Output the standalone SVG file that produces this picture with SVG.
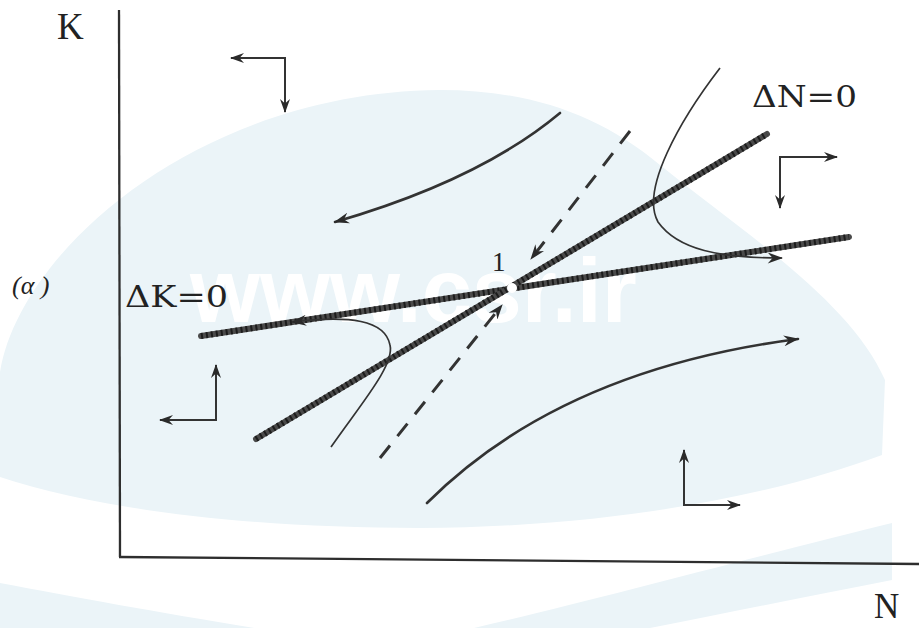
<svg xmlns="http://www.w3.org/2000/svg" width="919" height="628" viewBox="0 0 919 628">
<style>
.wm{fill:#ebf4f8}
.wmt{fill:#ffffff;font-family:"Liberation Sans",Arial,sans-serif;font-weight:bold;font-size:90px}
.axis{stroke:#2e2e2e;stroke-width:2.3;fill:none}
.thick{stroke:#4a4a4a;stroke-width:6;fill:none;stroke-linecap:round}
.hatch{stroke:#1c1c1c;stroke-width:6;fill:none;stroke-dasharray:2 3}
.traj{stroke:#333;stroke-width:2.6;fill:none;stroke-linecap:round}
.thin{stroke:#333;stroke-width:1.7;fill:none}
.dash{stroke:#333;stroke-width:3;fill:none;stroke-dasharray:16 12}
.dir{stroke:#333;stroke-width:2;fill:none}
.lbl{font-family:"Liberation Serif","Times New Roman",serif;fill:#222}
.eq{font-family:"DejaVu Serif","Liberation Serif",serif;fill:#222}
</style>
<defs>
<marker id="ah" viewBox="0 0 14 10" refX="13" refY="5" markerWidth="16" markerHeight="11" markerUnits="userSpaceOnUse" orient="auto">
<path d="M0,0 L14,5 L0,10 L4.5,5 Z" fill="#2a2a2a"/>
</marker>
<marker id="ahs" viewBox="0 0 14 10" refX="13" refY="5" markerWidth="14" markerHeight="10" markerUnits="userSpaceOnUse" orient="auto">
<path d="M0,0 L14,5 L0,10 L4.5,5 Z" fill="#2a2a2a"/>
</marker>
</defs>

<g id="watermark">
<path class="wm" d="M0,372 C20,250 200,92 440,90 C530,90 600,115 660,165 C740,230 850,300 885,380 L882,455 C760,500 600,527 420,528 C250,528 100,510 0,477 Z"/>
<path class="wm" d="M0,583 C90,600 200,620 330,640 L0,640 Z M420,640 C540,615 760,555 892,523 L892,580 C800,598 700,618 590,640 Z"/>
<text class="wmt" x="190" y="322">www.csr.ir</text>
</g>

<g id="axes">
<line class="axis" x1="119" y1="10" x2="120" y2="557"/>
<line class="axis" x1="119" y1="557" x2="919" y2="564"/>
<text class="lbl" x="57" y="39" font-size="37">K</text>
<text class="lbl" x="874" y="618" font-size="35">N</text>
<text class="lbl" x="12" y="294" font-size="26" font-style="italic">(α )</text>
</g>

<g id="dK0">
<line class="thick" x1="201" y1="336" x2="849" y2="237"/>
<line class="hatch" x1="201" y1="336" x2="849" y2="237"/>
<text class="eq" x="125" y="307" font-size="29" textLength="103" lengthAdjust="spacingAndGlyphs">ΔK=0</text>
</g>

<g id="dN0">
<line class="thick" x1="256" y1="439" x2="767" y2="134"/>
<line class="hatch" x1="256" y1="439" x2="767" y2="134"/>
<text class="eq" x="752" y="107" font-size="30" textLength="105" lengthAdjust="spacingAndGlyphs">ΔN=0</text>
</g>

<g id="eq1">
<circle cx="512" cy="288" r="5" fill="#ffffff"/>
<text class="lbl" x="492" y="271" font-size="27">1</text>
</g>

<g id="connectors">
<path class="dash" d="M630,131 L531,259" marker-end="url(#ah)"/>
<path class="dash" d="M380,458 L502,305" marker-end="url(#ah)"/>
<path class="traj" d="M560,113 Q480,180 335,222" marker-end="url(#ah)"/>
<path class="thin" d="M720,68 C680,120 640,190 658,222 C678,250 720,258 782,258" marker-end="url(#ah)"/>
<path class="thin" d="M331,447 C360,405 395,365 390,345 C385,320 350,315 292,322" marker-end="url(#ah)"/>
<path class="traj" d="M427,503 Q560,370 798,339" marker-end="url(#ah)"/>
<path class="dir" d="M285,112 L285,58 L231,58" marker-end="url(#ahs)"/>
<path class="dir" d="M285,58 L285,112" marker-end="url(#ahs)"/>
<path class="dir" d="M780,208 L780,157 L837,157" marker-end="url(#ahs)"/>
<path class="dir" d="M780,157 L780,208" marker-end="url(#ahs)"/>
<path class="dir" d="M160,420 L216,420 L216,365" marker-end="url(#ahs)"/>
<path class="dir" d="M216,420 L160,420" marker-end="url(#ahs)"/>
<path class="dir" d="M740,505 L684,505 L684,450" marker-end="url(#ahs)"/>
<path class="dir" d="M684,505 L740,505" marker-end="url(#ahs)"/>
</g>
</svg>
